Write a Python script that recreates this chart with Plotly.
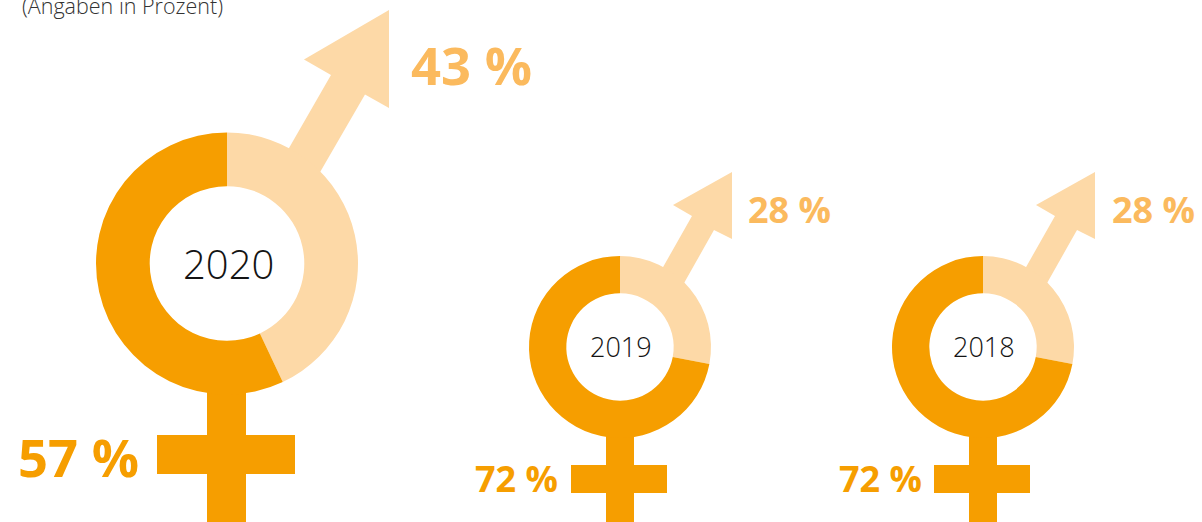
import plotly.graph_objects as go

W, H = 1202, 522
years = ["2020", "2019", "2018"]
men = [43, 28, 28]
women = [57, 72, 72]
labels = ["Männer", "Frauen"]
note = "(Angaben in Prozent)"

ORANGE = "#F69E00"
LIGHT = "#FDD9A7"
TEXT_LIGHT = "#FBBA5E"
DARK = "#141414"

def X(p): return p / W
def Y(p): return 1 - p / H

# donut layout (pixels): cx, cy, r, year size, pct size, label positions
layouts = [
    dict(cx=227, cy=263.5, r=131, ys=40, ps=52.5, mx=410.5, my=65, wx=16.5, wy=456),
    dict(cx=620, cy=347, r=91, ys=27, ps=36, mx=746.5, my=209, wx=473.5, wy=478),
    dict(cx=983, cy=347, r=91, ys=27, ps=36, mx=1110.5, my=209, wx=837.5, wy=478),
]

big_arrow = [(389, 10), (304, 59.5), (331, 75), (285, 155), (315.5, 180), (365, 94.5), (389, 108)]
small_arrow = [(732, 172), (673, 205), (692, 216), (658, 276), (679, 292), (714, 230), (732, 239)]

def path(pts):
    return "M " + " L ".join(f"{X(x):.5f},{Y(y):.5f}" for x, y in pts) + " Z"

def rect(x0, y0, x1, y1, color):
    return dict(type="rect", xref="paper", yref="paper", x0=X(x0), x1=X(x1), y0=Y(y0), y1=Y(y1),
                fillcolor=color, line_width=0, layer="below")

shapes = [
    dict(type="path", xref="paper", yref="paper", path=path(big_arrow), fillcolor=LIGHT, line_width=0, layer="below"),
    dict(type="path", xref="paper", yref="paper", path=path(small_arrow), fillcolor=LIGHT, line_width=0, layer="below"),
    dict(type="path", xref="paper", yref="paper", path=path([(x + 363, y) for x, y in small_arrow]),
         fillcolor=LIGHT, line_width=0, layer="below"),
    rect(207, 385, 246, 522, ORANGE), rect(157, 435, 295, 474, ORANGE),
    rect(606, 430, 634, 522, ORANGE), rect(571, 465, 667, 493, ORANGE),
    rect(969, 430, 997, 522, ORANGE), rect(934, 465, 1030, 493, ORANGE),
]

fig = go.Figure()
annotations = []

def text(s, px, py, size, color, anchor="left", weight=400):
    annotations.append(dict(text=s, x=X(px), y=Y(py), xref="paper", yref="paper", showarrow=False,
                            xanchor=anchor, yanchor="middle", borderpad=0,
                            font=dict(family="Open Sans", size=size, color=color, weight=weight)))

for year, m, f, l in zip(years, men, women, layouts):
    fig.add_trace(go.Pie(
        labels=labels, values=[m, f], hole=0.59, sort=False, direction="clockwise", rotation=0,
        marker=dict(colors=[LIGHT, ORANGE], line=dict(width=0)), textinfo="none", showlegend=False,
        domain=dict(x=[X(l["cx"] - l["r"]), X(l["cx"] + l["r"])],
                    y=[Y(l["cy"] + l["r"]), Y(l["cy"] - l["r"])]),
        name=year,
    ))
    text(year, l["cx"] + 1, l["cy"] - 0.5, l["ys"], DARK, "center", 300)
    text(f"{m} %", l["mx"], l["my"], l["ps"], TEXT_LIGHT, "left", 700)
    text(f"{f} %", l["wx"], l["wy"], l["ps"], ORANGE, "left", 700)

text(note, 21, 5.5, 21.5, "#333333", "left", 300)

fig.update_layout(width=W, height=H, margin=dict(l=0, r=0, t=0, b=0), paper_bgcolor="white",
                  shapes=shapes, annotations=annotations, showlegend=False)
fig.write_html("out.html", config=dict(displayModeBar=False),
               post_script="document.body.style.margin='0';document.body.style.overflow='hidden';")
